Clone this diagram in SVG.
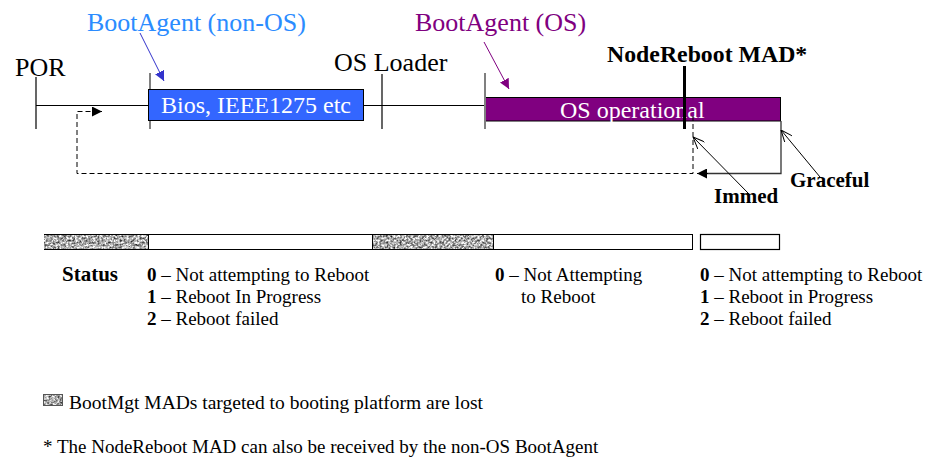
<svg xmlns="http://www.w3.org/2000/svg" width="940" height="461" viewBox="0 0 940 461" font-family="'Liberation Serif', 'Times New Roman', 'DejaVu Serif', serif">
<style>
text{font-family:'Liberation Serif','Times New Roman','DejaVu Serif',serif;fill:#000}
.big{font-size:26px}
.box{font-size:24px;fill:#fff}
.b{font-weight:bold}
.t{font-size:19px}
.ln{stroke:#000;stroke-width:1.2;fill:none}
.gl{stroke:#808080;stroke-width:2;fill:none}
.dash{stroke:#000;stroke-width:1;stroke-dasharray:5 3;fill:none}
.noise{filter:url(#noise)}
</style>
<defs>
<filter id="noise" x="0" y="0" width="1" height="1" color-interpolation-filters="sRGB">
<feTurbulence type="fractalNoise" baseFrequency="0.45" numOctaves="3" seed="11" result="n"/>
<feColorMatrix in="n" type="matrix" values="1.5 0 0 0 -0.08  1.5 0 0 0 -0.08  1.5 0 0 0 -0.08  0 0 0 0 1"/>
</filter>
<marker id="fillB" viewBox="0 0 10 10" refX="10" refY="5" markerWidth="10" markerHeight="10" markerUnits="userSpaceOnUse" orient="auto"><path d="M0,0 L10,5 L0,10 z" fill="#3333cc"/></marker>
<marker id="fillP" viewBox="0 0 10 10" refX="10" refY="5" markerWidth="10" markerHeight="10" markerUnits="userSpaceOnUse" orient="auto"><path d="M0,0 L10,5 L0,10 z" fill="#800080"/></marker>
<marker id="fillK" viewBox="0 0 10 10" refX="10" refY="5" markerWidth="10" markerHeight="10" markerUnits="userSpaceOnUse" orient="auto"><path d="M0,0 L10,5 L0,10 z" fill="#000"/></marker>
<marker id="open" viewBox="0 0 12 10" refX="12" refY="5" markerWidth="12" markerHeight="10" markerUnits="userSpaceOnUse" orient="auto"><path d="M0,0 L12,5 L0,10" fill="none" stroke="#000" stroke-width="1"/></marker>
</defs>

<g id="timeline">
<line class="ln" x1="36" y1="105.5" x2="148" y2="105.5"/>
<line class="ln" x1="364" y1="105.5" x2="485" y2="105.5"/>
<line class="ln" x1="36" y1="77" x2="36" y2="129"/>
<line class="ln" x1="382" y1="74" x2="382" y2="129"/>
</g>

<g id="por"><text class="big" x="15" y="76">POR</text></g>
<g id="osloader"><text class="big" x="334" y="71">OS Loader</text></g>

<g id="bios">
<line class="gl" x1="150" y1="73" x2="150" y2="129"/>
<rect x="148.5" y="89.5" width="215" height="31" fill="#3366ff" stroke="#000" stroke-width="1"/>
<text class="box" x="161" y="113">Bios, IEEE1275 etc</text>
</g>

<g id="osop">
<rect x="485.5" y="97.5" width="295" height="23.5" fill="#800080" stroke="#000" stroke-width="1"/>
<line class="gl" x1="485" y1="73" x2="485" y2="129"/>
<text class="box" x="560" y="118">OS operational</text>
</g>

<g id="bootagent-nonos"><text class="big" x="87" y="31" style="fill:#2b8cff">BootAgent (non-OS)</text></g>
<g id="bootagent-os"><text class="big" x="415" y="31" style="fill:#800080">BootAgent (OS)</text></g>

<g id="nodereboot">
<text x="607" y="62" font-size="23.8" class="b">NodeReboot MAD*</text>
<line x1="684.5" y1="66" x2="684.5" y2="129" stroke="#000" stroke-width="3"/>
</g>

<g id="graceful-label"><text x="790" y="187" font-size="21" class="b">Graceful</text></g>
<g id="immed-label"><text x="714" y="203" font-size="21" class="b">Immed</text></g>

<g id="connectors">
<line x1="140" y1="33" x2="164" y2="81" stroke="#3333cc" stroke-width="1" marker-end="url(#fillB)"/>
<line x1="484" y1="42" x2="509" y2="89" stroke="#800080" stroke-width="1" marker-end="url(#fillP)"/>
<polyline class="dash" points="693,116 693,173.5 77,173.5 77,111.5 94,111.5"/>
<line x1="93" y1="111.5" x2="102" y2="111.5" stroke="#000" stroke-width="1" marker-end="url(#fillK)"/>
<polyline points="781,121 781,173.5 706,173.5" fill="none" stroke="#333" stroke-width="1.3"/>
<line x1="708" y1="173.5" x2="697" y2="173.5" stroke="#000" stroke-width="1" marker-end="url(#fillK)"/>
<line x1="820" y1="177" x2="781" y2="130" stroke="#000" stroke-width="1" marker-end="url(#open)"/>
<line x1="749" y1="194" x2="693" y2="137" stroke="#000" stroke-width="1" marker-end="url(#open)"/>
</g>

<g id="statusbar">
<rect class="noise" x="44" y="234" width="104" height="15"/>
<rect x="148" y="234" width="224" height="15" fill="#fff"/>
<rect class="noise" x="372" y="234" width="121" height="15"/>
<rect x="493" y="234" width="200" height="15" fill="#fff"/>
<path d="M44,234.5 H693 M44,249.5 H693 M148.5,234 V250 M372.5,234 V250 M493.5,234 V250 M692.5,234 V250" stroke="#000" stroke-width="1" fill="none"/>
<rect x="700.5" y="234.5" width="79" height="15" fill="#fff" stroke="#000" stroke-width="1.2"/>
</g>

<g id="status-left">
<text x="62" y="281" font-size="21" class="b">Status</text>
<text class="t" x="147" y="281"><tspan class="b">0</tspan> – Not attempting to Reboot</text>
<text class="t" x="147" y="303"><tspan class="b">1</tspan> – Reboot In Progress</text>
<text class="t" x="147" y="325"><tspan class="b">2</tspan> – Reboot failed</text>
</g>
<g id="status-mid">
<text class="t" x="495" y="281"><tspan class="b">0</tspan> – Not Attempting</text>
<text class="t" x="521" y="303">to Reboot</text>
</g>
<g id="status-right">
<text class="t" x="700" y="281"><tspan class="b">0</tspan> – Not attempting to Reboot</text>
<text class="t" x="700" y="303"><tspan class="b">1</tspan> – Reboot in Progress</text>
<text class="t" x="700" y="325"><tspan class="b">2</tspan> – Reboot failed</text>
</g>

<g id="legend">
<rect class="noise" x="43" y="394" width="20" height="12"/>
<rect x="43.5" y="394.5" width="19" height="11" fill="none" stroke="#555" stroke-width="1"/>
<text x="69" y="409" font-size="19.5">BootMgt MADs targeted to booting platform are lost</text>
</g>
<g id="footnote">
<text class="t" x="43" y="453">* The NodeReboot MAD can also be received by the non-OS BootAgent</text>
</g>
</svg>
